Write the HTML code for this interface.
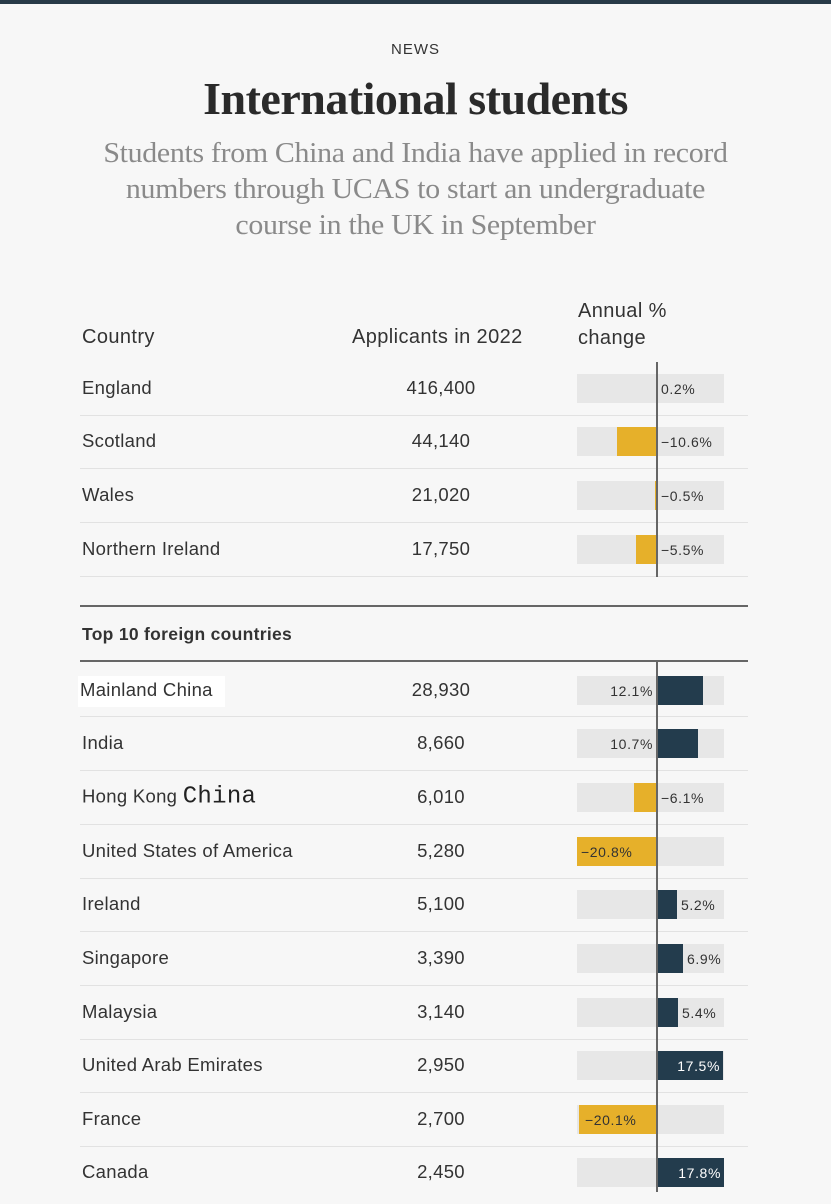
<!DOCTYPE html>
<html><head><meta charset="utf-8"><style>
*{margin:0;padding:0;box-sizing:border-box}
body{width:831px;height:1204px;background:#f7f7f7;position:relative;overflow:hidden;font-family:"Liberation Sans",sans-serif;color:#333}
.a{position:absolute;white-space:nowrap}
.top{left:0;top:0;width:831px;height:4px;background:#283a48}
.c{left:0;width:831px;text-align:center}
.t{font-family:"Liberation Serif",serif;font-weight:bold;font-size:46px;color:#2a2a2a;transform:scaleX(1.0);letter-spacing:-0.5px}
.s{font-family:"Liberation Serif",serif;font-size:29px;color:#8a8a8a;transform:scaleX(1.03);line-height:36px;letter-spacing:-0.3px}
.h{font-size:20px;color:#333;letter-spacing:0.4px}
.n{font-size:18.5px;left:82px;transform:translateY(-50%);letter-spacing:0.3px}
.v{font-size:18.5px;left:371px;width:140px;text-align:center;transform:translateY(-50%);letter-spacing:0.3px}
.div{left:80px;width:668px;height:1px;background:#e2e2e2}
.dk{left:80px;width:668px;height:1.5px;background:#666}
.tr{left:577px;width:147px;height:29px;background:#e7e7e7}
.y{background:#e6b02a;height:29px}
.b{background:#233c4d;height:29px}
.l{font-size:14px;transform:translateY(-50%);color:#333;letter-spacing:0.6px}
.w{color:#fff}
.z{left:656px;width:1.5px;background:#666}
</style></head><body>
<div class="a top"></div>
<div class="a c" style="top:41px;font-size:15px;letter-spacing:1px;color:#333">NEWS</div>
<div class="a c t" style="top:72px">International students</div>
<div class="a c s" style="top:135px">Students from China and India have applied in record<br>numbers through UCAS to start an undergraduate<br>course in the UK in September</div>

<div class="a h" style="left:82px;top:326px">Country</div>
<div class="a h" style="left:352px;top:326px">Applicants in 2022</div>
<div class="a h" style="left:578px;top:298px;line-height:27px">Annual %<br>change</div>

<div class="a n" style="top:388px">England</div><div class="a v" style="top:388px">416,400</div>
<div class="a tr" style="top:374px"></div>
<div class="a l" style="left:661px;top:389px">0.2%</div>
<div class="a div" style="top:415px"></div>

<div class="a n" style="top:441px">Scotland</div><div class="a v" style="top:441px">44,140</div>
<div class="a tr" style="top:427px"></div><div class="a y" style="left:617px;width:40px;top:427px"></div>
<div class="a l" style="left:661px;top:442px">−10.6%</div>
<div class="a div" style="top:468px"></div>

<div class="a n" style="top:495px">Wales</div><div class="a v" style="top:495px">21,020</div>
<div class="a tr" style="top:481px"></div><div class="a y" style="left:655px;width:2px;top:481px"></div>
<div class="a l" style="left:661px;top:496px">−0.5%</div>
<div class="a div" style="top:522px"></div>

<div class="a n" style="top:549px">Northern Ireland</div><div class="a v" style="top:549px">17,750</div>
<div class="a tr" style="top:535px"></div><div class="a y" style="left:636px;width:21px;top:535px"></div>
<div class="a l" style="left:661px;top:550px">−5.5%</div>
<div class="a div" style="top:576px"></div>

<div class="a z" style="top:362px;height:215px"></div>

<div class="a dk" style="top:605px"></div>
<div class="a" style="left:82px;top:624px;font-size:17.5px;font-weight:bold;color:#333;letter-spacing:0.3px">Top 10 foreign countries</div>
<div class="a dk" style="top:660px"></div>

<div class="a" style="left:78px;top:676px;width:147px;height:31px;background:#fff"></div>
<div class="a n" style="top:690px;left:80px">Mainland China</div><div class="a v" style="top:690px">28,930</div>
<div class="a tr" style="top:676px"></div><div class="a b" style="left:657px;width:46px;top:676px"></div>
<div class="a l" style="left:590px;width:63px;text-align:right;top:691px">12.1%</div>
<div class="a div" style="top:716px"></div>

<div class="a n" style="top:743px">India</div><div class="a v" style="top:743px">8,660</div>
<div class="a tr" style="top:729px"></div><div class="a b" style="left:657px;width:41px;top:729px"></div>
<div class="a l" style="left:590px;width:63px;text-align:right;top:744px">10.7%</div>
<div class="a div" style="top:770px"></div>

<div class="a n" style="top:797px">Hong Kong <span style="font-family:'Liberation Mono',monospace;font-size:24px;color:#222">China</span></div><div class="a v" style="top:797px">6,010</div>
<div class="a tr" style="top:783px"></div><div class="a y" style="left:634px;width:23px;top:783px"></div>
<div class="a l" style="left:661px;top:798px">−6.1%</div>
<div class="a div" style="top:824px"></div>

<div class="a n" style="top:851px">United States of America</div><div class="a v" style="top:851px">5,280</div>
<div class="a tr" style="top:837px"></div><div class="a y" style="left:577px;width:80px;top:837px"></div>
<div class="a l" style="left:581px;top:852px">−20.8%</div>
<div class="a div" style="top:878px"></div>

<div class="a n" style="top:904px">Ireland</div><div class="a v" style="top:904px">5,100</div>
<div class="a tr" style="top:890px"></div><div class="a b" style="left:657px;width:20px;top:890px"></div>
<div class="a l" style="left:681px;top:905px">5.2%</div>
<div class="a div" style="top:931px"></div>

<div class="a n" style="top:958px">Singapore</div><div class="a v" style="top:958px">3,390</div>
<div class="a tr" style="top:944px"></div><div class="a b" style="left:657px;width:26px;top:944px"></div>
<div class="a l" style="left:687px;top:959px">6.9%</div>
<div class="a div" style="top:985px"></div>

<div class="a n" style="top:1012px">Malaysia</div><div class="a v" style="top:1012px">3,140</div>
<div class="a tr" style="top:998px"></div><div class="a b" style="left:657px;width:21px;top:998px"></div>
<div class="a l" style="left:682px;top:1013px">5.4%</div>
<div class="a div" style="top:1039px"></div>

<div class="a n" style="top:1065px">United Arab Emirates</div><div class="a v" style="top:1065px">2,950</div>
<div class="a tr" style="top:1051px"></div><div class="a b" style="left:657px;width:66px;top:1051px"></div>
<div class="a l w" style="left:657px;width:63px;text-align:right;top:1066px">17.5%</div>
<div class="a div" style="top:1092px"></div>

<div class="a n" style="top:1119px">France</div><div class="a v" style="top:1119px">2,700</div>
<div class="a tr" style="top:1105px"></div><div class="a y" style="left:579px;width:78px;top:1105px"></div>
<div class="a l" style="left:585px;top:1120px">−20.1%</div>
<div class="a div" style="top:1146px"></div>

<div class="a n" style="top:1172px">Canada</div><div class="a v" style="top:1172px">2,450</div>
<div class="a tr" style="top:1158px"></div><div class="a b" style="left:657px;width:67px;top:1158px"></div>
<div class="a l w" style="left:657px;width:64px;text-align:right;top:1173px">17.8%</div>

<div class="a z" style="top:662px;height:530px"></div>
</body></html>
